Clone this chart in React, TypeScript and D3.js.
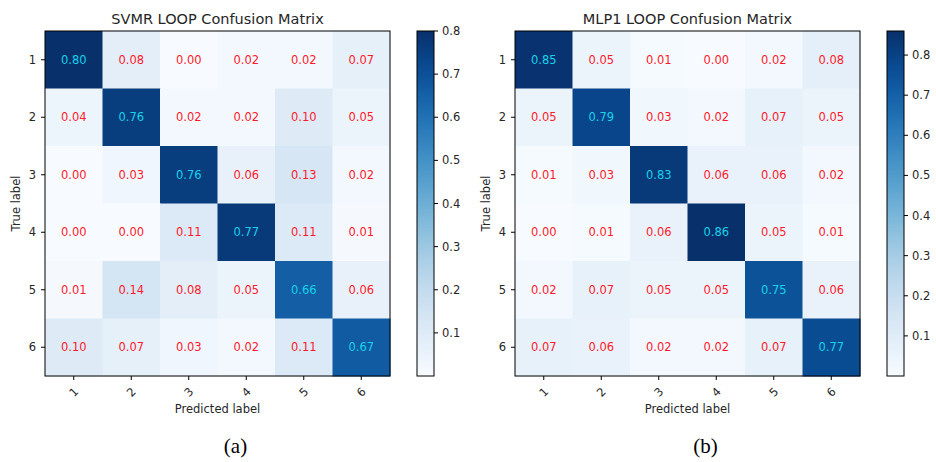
import React from 'react';
import * as d3 from 'd3';

const classes = ['1', '2', '3', '4', '5', '6'];

const svmrMatrix = [
  [0.80, 0.08, 0.00, 0.02, 0.02, 0.07],
  [0.04, 0.76, 0.02, 0.02, 0.10, 0.05],
  [0.00, 0.03, 0.76, 0.06, 0.13, 0.02],
  [0.00, 0.00, 0.11, 0.77, 0.11, 0.01],
  [0.01, 0.14, 0.08, 0.05, 0.66, 0.06],
  [0.10, 0.07, 0.03, 0.02, 0.11, 0.67],
];

const mlpMatrix = [
  [0.85, 0.05, 0.01, 0.00, 0.02, 0.08],
  [0.05, 0.79, 0.03, 0.02, 0.07, 0.05],
  [0.01, 0.03, 0.83, 0.06, 0.06, 0.02],
  [0.00, 0.01, 0.06, 0.86, 0.05, 0.01],
  [0.02, 0.07, 0.05, 0.05, 0.75, 0.06],
  [0.07, 0.06, 0.02, 0.02, 0.07, 0.77],
];

const colorbarTicks = [0.1, 0.2, 0.3, 0.4, 0.5, 0.6, 0.7, 0.8];

const FONT = '"DejaVu Sans", sans-serif';
const TXT = '#262626';

type PanelProps = {
  matrix: number[][];
  title: string;
  caption: string;
  offsetX: number;
  id: string;
};

function Panel({ matrix, title, caption, offsetX, id }: PanelProps) {
  const left = 45;
  const top = 31;
  const size = 345;
  const cbLeft = 417;
  const cbWidth = 17;

  const flat = matrix.flat();
  const vmin = d3.min(flat) ?? 0;
  const vmax = d3.max(flat) ?? 1;
  const thresh = vmax / 2;

  const color = d3.scaleSequential(d3.interpolateBlues).domain([vmin, vmax]);
  const x = d3.scaleBand().domain(classes).range([left, left + size]);
  const y = d3.scaleBand().domain(classes).range([top, top + size]);
  const cb = d3.scaleLinear().domain([vmin, vmax]).range([top + size, top]);

  const stops = d3.range(0, 1.0001, 0.05);
  const bw = x.bandwidth();

  return (
    <g transform={`translate(${offsetX},0)`}>
      <defs>
        <linearGradient id={`grad-${id}`} x1="0" y1="1" x2="0" y2="0">
          {stops.map((t) => (
            <stop key={t} offset={t} stopColor={d3.interpolateBlues(t)} />
          ))}
        </linearGradient>
      </defs>

      <text x={left + size / 2} y={24} textAnchor="middle" fontSize={14.5} fill={TXT}>
        {title}
      </text>

      {matrix.map((row, i) =>
        row.map((v, j) => (
          <rect
            key={`c-${i}-${j}`}
            x={x(classes[j])}
            y={y(classes[i])}
            width={bw + 0.5}
            height={bw + 0.5}
            fill={color(v)}
          />
        )),
      )}

      {matrix.map((row, i) =>
        row.map((v, j) => (
          <text
            key={`t-${i}-${j}`}
            x={(x(classes[j]) ?? 0) + bw / 2}
            y={(y(classes[i]) ?? 0) + bw / 2}
            textAnchor="middle"
            dominantBaseline="central"
            fontSize={11.5}
            fill={v > thresh ? '#17d2ea' : '#ff1a2a'}
          >
            {v.toFixed(2)}
          </text>
        )),
      )}

      <rect x={left} y={top} width={size} height={size} fill="none" stroke="#000" strokeWidth={1} />

      {classes.map((c) => {
        const cy = (y(c) ?? 0) + bw / 2;
        return (
          <g key={`y-${c}`}>
            <line x1={left - 4} x2={left} y1={cy} y2={cy} stroke="#000" />
            <text x={left - 9} y={cy} textAnchor="end" dominantBaseline="central" fontSize={11.5} fill={TXT}>
              {c}
            </text>
          </g>
        );
      })}

      {classes.map((c) => {
        const cx = (x(c) ?? 0) + bw / 2;
        return (
          <g key={`x-${c}`}>
            <line x1={cx} x2={cx} y1={top + size} y2={top + size + 4} stroke="#000" />
            <text
              transform={`translate(${cx},392) rotate(-45)`}
              textAnchor="middle"
              dominantBaseline="central"
              fontSize={11.5}
              fill={TXT}
            >
              {c}
            </text>
          </g>
        );
      })}

      <text x={left + size / 2} y={413} textAnchor="middle" fontSize={11.5} fill={TXT}>
        Predicted label
      </text>
      <text
        transform={`translate(20,${top + size / 2}) rotate(-90)`}
        textAnchor="middle"
        fontSize={11.5}
        fill={TXT}
      >
        True label
      </text>

      <rect x={cbLeft} y={top} width={cbWidth} height={size} fill={`url(#grad-${id})`} stroke="#000" strokeWidth={1} />
      {colorbarTicks
        .filter((t) => t <= vmax + 1e-9 && t >= vmin)
        .map((t) => (
          <g key={`cb-${t}`}>
            <line x1={cbLeft + cbWidth} x2={cbLeft + cbWidth + 4} y1={cb(t)} y2={cb(t)} stroke="#000" />
            <text
              x={cbLeft + cbWidth + 8}
              y={cb(t)}
              dominantBaseline="central"
              fontSize={11.5}
              fill={TXT}
            >
              {t.toFixed(1)}
            </text>
          </g>
        ))}

      <text
        x={left + size / 2 + 18}
        y={453}
        textAnchor="middle"
        fontSize={21}
        fontFamily='"Liberation Serif", "Times New Roman", serif'
        fill="#000"
      >
        {caption}
      </text>
    </g>
  );
}

export default function App() {
  return (
    <div style={{ position: 'absolute', left: 0, top: 0 }}>
      <svg width={936} height={462} fontFamily={FONT} style={{ display: 'block', background: '#fff' }}>
        <rect width={936} height={462} fill="#fff" />
        <Panel matrix={svmrMatrix} title="SVMR LOOP Confusion Matrix" caption="(a)" offsetX={0} id="a" />
        <Panel matrix={mlpMatrix} title="MLP1 LOOP Confusion Matrix" caption="(b)" offsetX={470} id="b" />
      </svg>
    </div>
  );
}
